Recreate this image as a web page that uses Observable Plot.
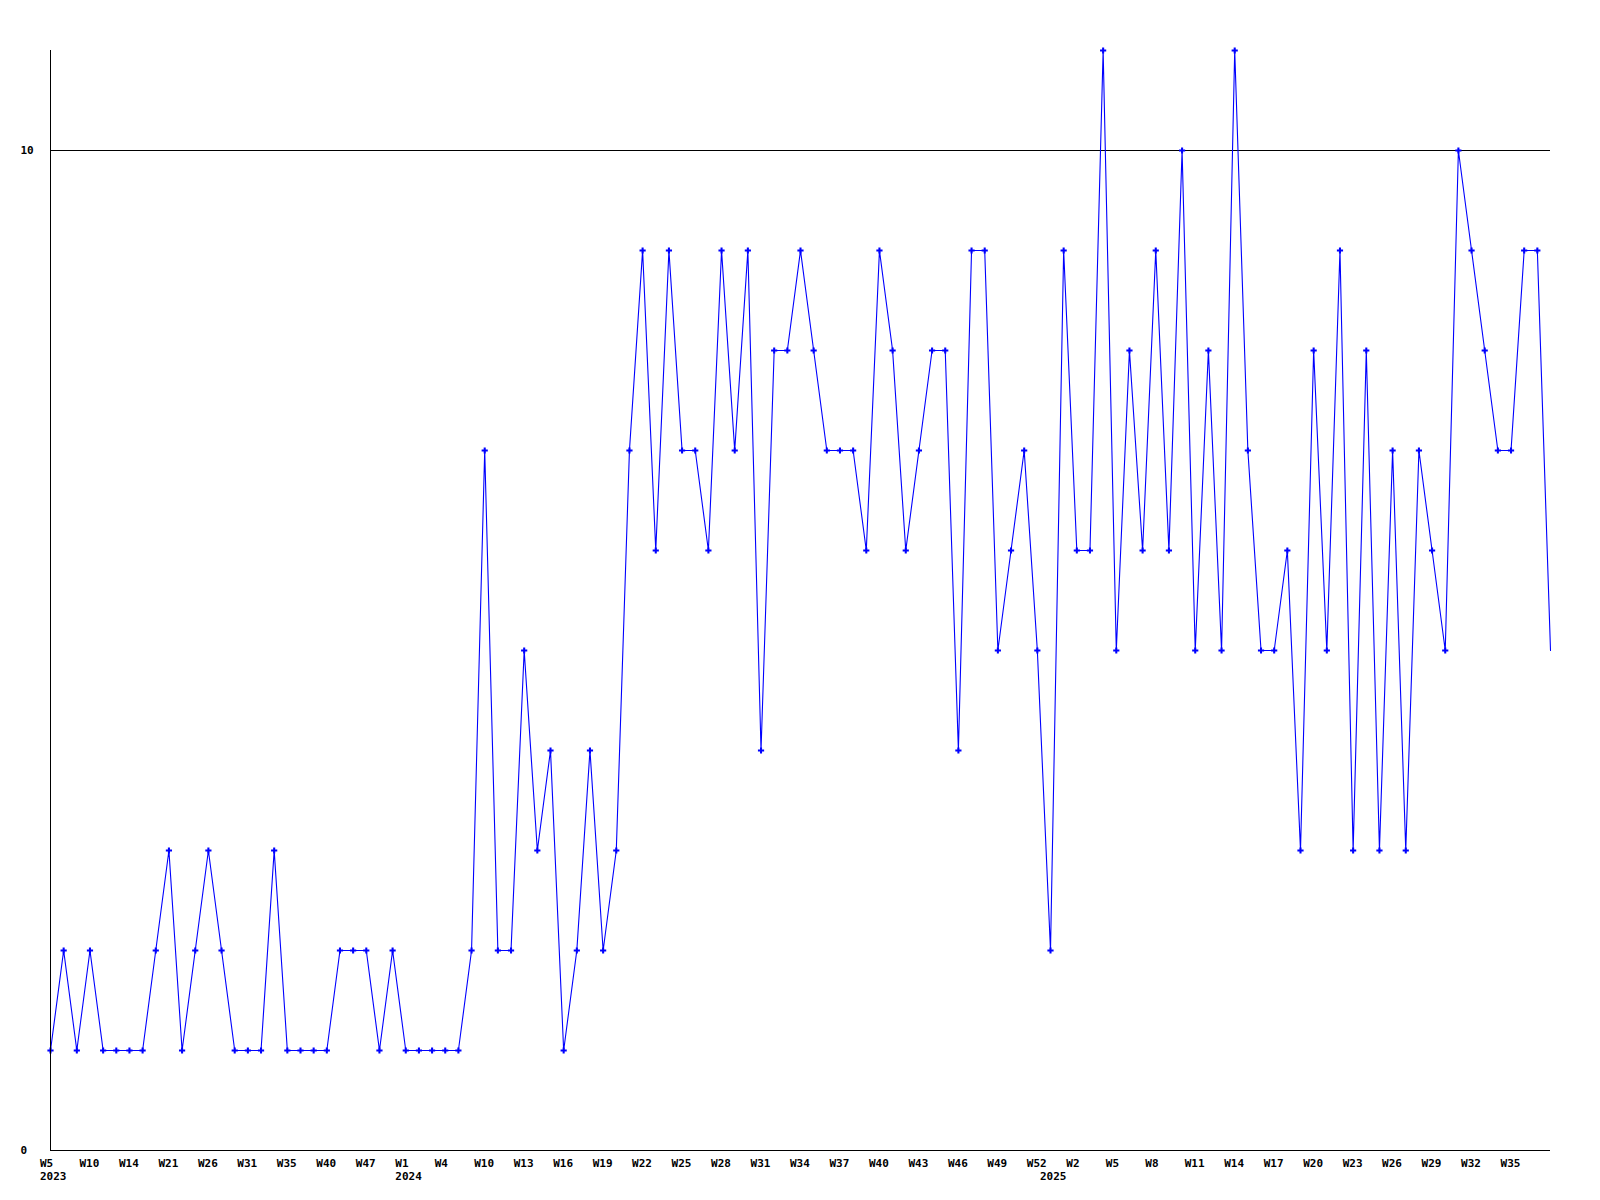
<!DOCTYPE html>
<html><head><meta charset="utf-8">
<script src="https://cdn.jsdelivr.net/npm/d3@7"></script>
<script src="https://cdn.jsdelivr.net/npm/@observablehq/plot@0.6"></script>
<style>body{margin:0;background:#fff}</style>
</head><body><div id="chart"></div>
<script>
// weekly counts, one per data week (categorical positions)
const values = [
  1,2,1,2,1,1,1,1,2,3, 1,2,3,2,1,1,1,3,1,1,
  1,1,2,2,2,1,2,1,1,1, 1,1,2,7,2,2,5,3,4,1,
  2,4,2,3,7,9,6,9,7,7, 6,9,7,9,4,8,8,9,8,7,
  7,7,6,9,8,6,7,8,8,4, 9,9,5,6,7,5,2,9,6,6,
  11,5,8,6,9,6,10,5,8,5, 11,7,5,5,6,3,8,5,9,3,
  8,3,7,3,7,6,5,10,9,8, 7,7,9,9,5
];
// tick labels shown every 3rd data week
const weekTickLabels = [
  "W5","W10","W14","W21","W26","W31","W35","W40","W47",
  "W1","W4","W10","W13","W16","W19","W22","W25","W28","W31","W34","W37","W40","W43","W46","W49","W52",
  "W2","W5","W8","W11","W14","W17","W20","W23","W26","W29","W32","W35"
];
const weekTickStep = 3;
const yearLabels = ["2023","2024","2025"];
const yearStartIndex = [0,27,76];
const yTicks = [0,10];

const data = values.map((v,i)=>({i, v}));
const weekTicks = weekTickLabels.map((_,k)=>k*weekTickStep);
const weekMap = new Map(weekTicks.map((t,k)=>[t, weekTickLabels[k]]));
const yearMap = new Map(yearStartIndex.map((t,k)=>[t, yearLabels[k]]));

const chart = Plot.plot({
  width:1600, height:1200,
  marginLeft:50, marginRight:50, marginTop:50, marginBottom:50,
  style:{fontFamily:"'DejaVu Sans Mono', monospace", fontSize:"11px", fontWeight:"bold", background:"#fff", color:"#000"},
  x:{domain:[0, values.length-1], axis:null},
  y:{domain:[0,11], axis:null},
  marks:[
    Plot.ruleY([10], {stroke:"#000", strokeWidth:1}),
    Plot.line(data, {x:"i", y:"v", stroke:"#0000ff", strokeWidth:1.1}),
    Plot.dot(data.slice(0,-1), {x:"i", y:"v", symbol:"cross", r:2.6, fill:"#0000ff", stroke:null}),
    Plot.ruleX([0], {stroke:"#000"}),
    Plot.ruleY([0], {stroke:"#000"}),
    Plot.axisY({ticks:yTicks, label:null, tickSize:0, tickPadding:0, textAnchor:"start", dx:-30, tickFormat:d=>String(d)}),
    Plot.axisX({ticks:weekTicks, label:null, tickFormat:d=>weekMap.get(d), tickSize:0, tickPadding:9, textAnchor:"start", dx:-10.5}),
    Plot.axisX({ticks:yearStartIndex, label:null, tickFormat:d=>yearMap.get(d), tickSize:0, tickPadding:22, textAnchor:"start", dx:-10.5})
  ]
});
document.getElementById("chart").appendChild(chart);
</script>
</body></html>
